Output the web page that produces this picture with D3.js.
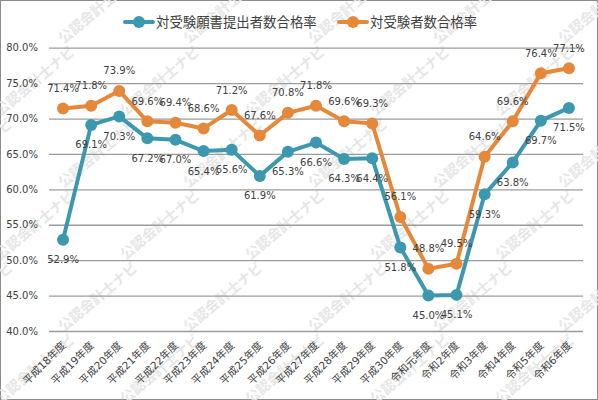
<!DOCTYPE html>
<html>
<head>
<meta charset="utf-8">
<script src="https://cdn.jsdelivr.net/npm/d3@7"></script>
<style>
  body { margin: 0; background: #fff; }
  svg { display: block; }
  text { font-family: Verdana, "DejaVu Sans", "Noto Sans CJK JP", sans-serif; }
</style>
</head>
<body>
<div id="main"></div>
<script>
const ctx = {
    w: 598,
    h: 400,
    left: 49,
    right: 583,
    top: 47.7,
    bottom: 331
};

// categories (fiscal years)
const years = ["平成18年度", "平成19年度", "平成20年度", "平成21年度", "平成22年度",
    "平成23年度", "平成24年度", "平成25年度", "平成26年度", "平成27年度",
    "平成28年度", "平成29年度", "平成30年度", "令和元年度", "令和2年度",
    "令和3年度", "令和4年度", "令和5年度", "令和6年度"];
// pass rate vs applicants (%)
const applicantRate = [52.9, 69.1, 70.3, 67.2, 67.0, 65.4, 65.6, 61.9, 65.3, 66.6,
    64.3, 64.4, 51.8, 45.0, 45.1, 59.3, 63.8, 69.7, 71.5];
// pass rate vs examinees (%)
const examineeRate = [71.4, 71.8, 73.9, 69.6, 69.4, 68.6, 71.2, 67.6, 70.8, 71.8,
    69.6, 69.3, 56.1, 48.8, 49.5, 64.6, 69.6, 76.4, 77.1];
const yTicks = [40, 45, 50, 55, 60, 65, 70, 75, 80];
const seriesNames = ["対受験願書提出者数合格率", "対受験者数合格率"];
const watermark = "公認会計士ナビ";

const colors = ["#3c98ae", "#e6883a"];

function createViz() {
    let svg = d3.select("#main").append("svg")
        .attr("width", ctx.w)
        .attr("height", ctx.h);

    svg.append("rect")
        .attr("x", 0.5).attr("y", 0.5)
        .attr("width", ctx.w - 1).attr("height", ctx.h - 1)
        .attr("fill", "#fff")
        .attr("stroke", "#8c8c8c");

    // watermark tiles (decoration only)
    let wmG = svg.append("g").attr("id", "wmG");
    for (let r = 0; r < 7; r++) {
        for (let c = 0; c < 6; c++) {
            let cx = 35 + c * 125 + (r % 2) * 62 - 62;
            let cy = 45 + r * 72 - 36;
            wmG.append("text")
                .attr("transform", `translate(${cx},${cy}) rotate(-40)`)
                .attr("text-anchor", "middle")
                .attr("dy", "0.35em")
                .attr("font-size", 14)
                .attr("font-weight", "bold")
                .attr("fill", "#e6e6e6")
                .attr("font-family", "'Noto Sans CJK JP', sans-serif")
                .text(watermark);
        }
    }

    let x = d3.scalePoint().domain(years)
        .range([ctx.left, ctx.right]).padding(0.5);
    let y = d3.scaleLinear().domain([40, 80])
        .range([ctx.bottom, ctx.top]);

    // gridlines + y axis
    let yAxis = d3.axisLeft(y).tickValues(yTicks)
        .tickSize(-(ctx.right - ctx.left))
        .tickPadding(11)
        .tickFormat((d) => d.toFixed(1) + "%");
    let yG = svg.append("g")
        .attr("transform", `translate(${ctx.left},0)`)
        .call(yAxis);
    yG.select(".domain").remove();
    yG.selectAll("line").attr("stroke", "#9c9c9c").attr("stroke-width", 1.3);
    yG.selectAll("text").attr("font-size", 10).attr("fill", "#404040")
        .attr("font-family", "Verdana, 'DejaVu Sans', sans-serif");

    // x axis labels
    let xAxis = d3.axisBottom(x).tickSize(0).tickPadding(0);
    let xG = svg.append("g")
        .attr("transform", `translate(0,${ctx.bottom})`)
        .call(xAxis);
    xG.select(".domain").remove();
    xG.selectAll("text")
        .attr("font-size", 10.5)
        .attr("fill", "#404040")
        .attr("text-anchor", "end")
        .attr("dy", null)
        .attr("y", 0)
        .attr("transform", "translate(3,15) rotate(-45)");

    // series
    let series = [applicantRate, examineeRate];
    let line = d3.line()
        .x((d, i) => x(years[i]))
        .y((d) => y(d));
    series.forEach((vals, s) => {
        let g = svg.append("g").attr("class", "series");
        g.append("path")
            .datum(vals)
            .attr("fill", "none")
            .attr("stroke", colors[s])
            .attr("stroke-width", 4)
            .attr("stroke-linejoin", "round")
            .attr("d", line);
        g.selectAll("circle")
            .data(vals)
            .enter()
            .append("circle")
            .attr("cx", (d, i) => x(years[i]))
            .attr("cy", (d) => y(d))
            .attr("r", 6)
            .attr("fill", colors[s]);
    });

    // data labels: applicants below, examinees above
    series.forEach((vals, s) => {
        svg.append("g").selectAll("text")
            .data(vals)
            .enter()
            .append("text")
            .attr("x", (d, i) => x(years[i]))
            .attr("y", (d) => y(d) + (s === 0 ? 20 : -20))
            .attr("dy", "0.35em")
            .attr("text-anchor", "middle")
            .attr("font-size", 10)
            .attr("fill", "#404040")
            .text((d) => d.toFixed(1) + "%");
    });

    // legend
    let legendX = [125, 339];
    let legendG = svg.append("g").attr("id", "legendG");
    seriesNames.forEach((name, s) => {
        let lg = legendG.append("g")
            .attr("transform", `translate(${legendX[s]},22)`);
        lg.append("line")
            .attr("x1", 0).attr("x2", 28)
            .attr("stroke", colors[s])
            .attr("stroke-width", 4)
            .attr("stroke-linecap", "round");
        lg.append("circle")
            .attr("cx", 14).attr("r", 6)
            .attr("fill", colors[s]);
        lg.append("text")
            .attr("x", 31)
            .attr("dy", "0.35em")
            .attr("font-size", 13.4)
            .attr("fill", "#404040")
            .attr("font-family", "'Noto Sans CJK JP', sans-serif")
            .text(name);
    });
}

createViz();
</script>
</body>
</html>
